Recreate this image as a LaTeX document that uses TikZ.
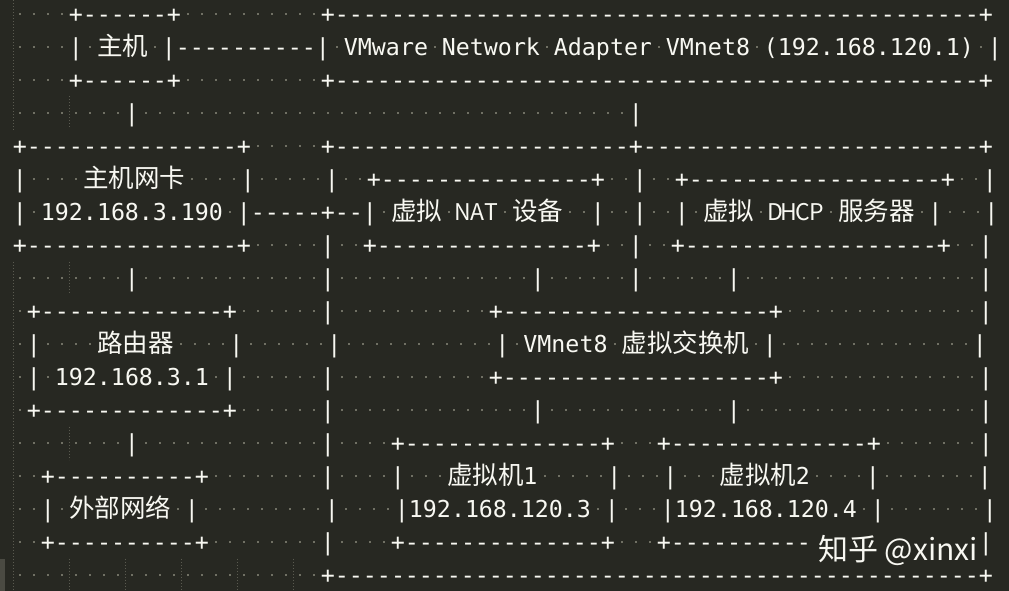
\documentclass[tikz,border=0pt]{standalone}
\usepackage{fontspec}
\newfontfamily\monofont{DejaVu Sans Mono}
\newfontfamily\cjkfont{Noto Sans CJK SC}
\definecolor{bgc}{RGB}{39,40,34}
\definecolor{txc}{RGB}{248,248,242}
\definecolor{dotc}{RGB}{112,112,100}
\definecolor{guidec}{RGB}{90,90,80}
\definecolor{gutterc}{RGB}{74,74,66}
\newlength\cw \setlength\cw{14pt}
\newlength\kw \setlength\kw{25.5pt}
\newif\iffb
\newcount\RepCnt
\def\MF{\monofont\fontsize{23.3}{28}\selectfont}
\def\KF{\cjkfont\fontsize{25.5}{30}\selectfont}
\def\FB{\cjkfont\fontsize{23}{28}\selectfont}
\def\SpCell{\makebox[\cw][c]{\textcolor{dotc}{\rule[7.5pt]{2pt}{2pt}}}}
\def\Ch#1{%
  \ifx*#1\SpCell
  \else\ifx<#1\global\fbtrue
  \else\ifx>#1\global\fbfalse
  \else\ifnum`#1>255 \makebox[\kw][c]{\KF#1}%
  \else\iffb\makebox[\cw][c]{\FB#1}\else\makebox[\cw][c]{\MF#1}\fi
  \fi\fi\fi\fi}
\def\Ln#1{\LnX#1\relax}
\def\LnX#1{\ifx\relax#1\else\Ch{#1}\expandafter\LnX\fi}
\def\Rep#1#2{\RepCnt=#1\relax\loop\ifnum\RepCnt>0 #2\advance\RepCnt by -1 \repeat}
\def\Dsh#1{\Rep{#1}{\Ch{-}}}
\def\Sps#1{\Rep{#1}{\SpCell}}
\tikzset{
  rowtext/.style={inner sep=0pt, outer sep=0pt, anchor=base west, text=txc},
  guide/.style={draw=guidec, line width=1pt, dash pattern=on 1pt off 2pt},
  wmark/.style={inner sep=0pt, outer sep=0pt, anchor=base east, text=txc,
    font=\cjkfont\fontsize{30}{36}\selectfont}
}
\begin{document}
\begin{tikzpicture}[x=1pt,y=-1pt]
\useasboundingbox (0,0) rectangle (1009,591);
\fill[bgc] (0,0) rectangle (1009,591);
\fill[gutterc] (0,558.5) rectangle (5,591);
% indent guides
\draw[guide] (13,0) -- (13,129.5);
\draw[guide] (69,96.5) -- (69,129.5);
\draw[guide] (13,261.5) -- (13,591);
\draw[guide] (69,261.5) -- (69,294.5);
\draw[guide] (69,426.5) -- (69,459.5);
\foreach \gx in {69,125,181,237,293} \draw[guide] (\gx,558.5) -- (\gx,591);
% text rows
\node[rowtext] (r0) at (13,22.5) {\Sps{4}\Ln{+}\Dsh{6}\Ln{+}\Sps{10}\Ln{+}\Dsh{46}\Ln{+}};
\node[rowtext] (r1) at (13,55.5) {\Sps{4}\Ln{|*主机*|}\Dsh{10}\Ln{|*VMware*Network*Adapter*VMnet8*(192.168.120.1)*|}};
\node[rowtext] (r2) at (13,88.5) {\Sps{4}\Ln{+}\Dsh{6}\Ln{+}\Sps{10}\Ln{+}\Dsh{46}\Ln{+}};
\node[rowtext] (r3) at (13,121.5) {\Sps{8}\Ln{|}\Sps{35}\Ln{|}};
\node[rowtext] (r4) at (13,154.5) {\Ln{+}\Dsh{15}\Ln{+}\Sps{5}\Ln{+}\Dsh{21}\Ln{+}\Dsh{24}\Ln{+}};
\node[rowtext] (r5) at (13,187.5) {\Ln{|****主机网卡****|*****|**+}\Dsh{15}\Ln{+**|**+}\Dsh{18}\Ln{+**|}};
\node[rowtext] (r6) at (13,220.5) {\Ln{|*192.168.3.190*|-----+--|*虚拟*<NAT>*设备**|**|**|*虚拟*<DHCP>*服务器*|***|}};
\node[rowtext] (r7) at (13,253.5) {\Ln{+}\Dsh{15}\Ln{+*****|**+}\Dsh{15}\Ln{+**|**+}\Dsh{18}\Ln{+**|}};
\node[rowtext] (r8) at (13,286.5) {\Sps{8}\Ln{|}\Sps{13}\Ln{|}\Sps{14}\Ln{|}\Sps{6}\Ln{|}\Sps{6}\Ln{|}\Sps{17}\Ln{|}};
\node[rowtext] (r9) at (13,319.5) {\Sps{1}\Ln{+}\Dsh{13}\Ln{+}\Sps{6}\Ln{|}\Sps{11}\Ln{+}\Dsh{19}\Ln{+}\Sps{14}\Ln{|}};
\node[rowtext] (r10) at (13,352.5) {\Ln{*|****路由器****|******|}\Sps{11}\Ln{|*VMnet8*虚拟交换机*|}\Sps{14}\Ln{|}};
\node[rowtext] (r11) at (13,385.5) {\Ln{*|*192.168.3.1*|******|}\Sps{11}\Ln{+}\Dsh{19}\Ln{+}\Sps{14}\Ln{|}};
\node[rowtext] (r12) at (13,418.5) {\Sps{1}\Ln{+}\Dsh{13}\Ln{+}\Sps{6}\Ln{|}\Sps{14}\Ln{|}\Sps{13}\Ln{|}\Sps{17}\Ln{|}};
\node[rowtext] (r13) at (13,451.5) {\Sps{8}\Ln{|}\Sps{13}\Ln{|}\Sps{4}\Ln{+}\Dsh{14}\Ln{+}\Sps{3}\Ln{+}\Dsh{14}\Ln{+}\Sps{7}\Ln{|}};
\node[rowtext] (r14) at (13,484.5) {\Sps{2}\Ln{+}\Dsh{10}\Ln{+}\Sps{8}\Ln{|}\Sps{4}\Ln{|***虚拟机1*****|***|***虚拟机2****|*******|}};
\node[rowtext] (r15) at (13,517.5) {\Ln{**|*外部网络*|}\Sps{9}\Ln{|****|192.168.120.3*|***|192.168.120.4*|*******|}};
% row 16: the part under the watermark is hidden, as in the reference
\node[rowtext] (r16) at (13,550.5) {\Sps{2}\Ln{+}\Dsh{10}\Ln{+}\Sps{8}\Ln{|}\Sps{4}\Ln{+}\Dsh{14}\Ln{+}\Sps{3}\Ln{+}\Dsh{10}};
\node[rowtext] (r16b) at (979,550.5) {\Ln{|}};
\node[rowtext] (r17) at (13,583.5) {\Sps{22}\Ln{+}\Dsh{46}\Ln{+}};
% watermark
\node[wmark] (wm) at (978,560) {知乎 @xinxi};
\end{tikzpicture}
\end{document}
